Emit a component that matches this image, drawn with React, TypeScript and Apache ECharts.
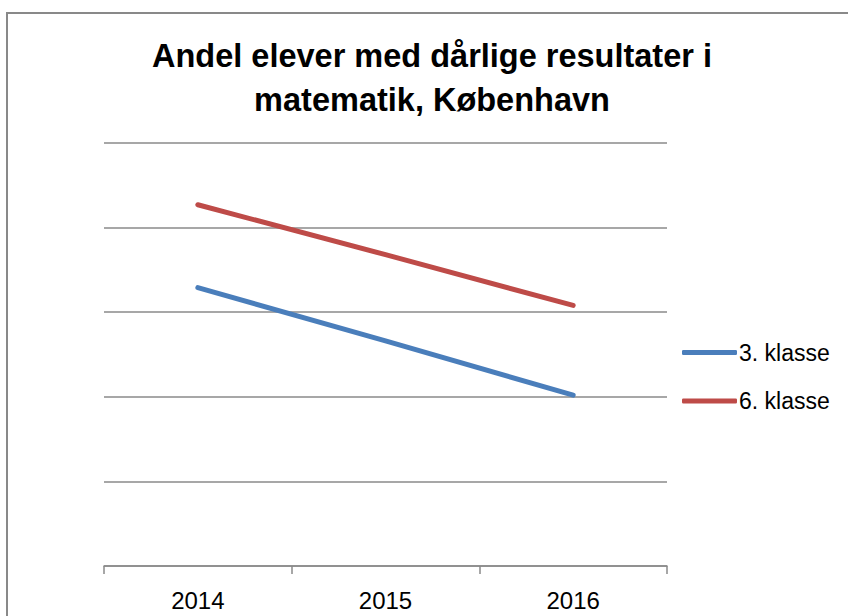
import React, { useEffect, useRef } from "react";
import * as echarts from "echarts";

const years = ["2014", "2015", "2016"];
const klasse3 = [16.45, 13.3, 10.1];
const klasse6 = [21.35, 18.4, 15.4];
const seriesNames = ["3. klasse", "6. klasse"];
const titleText = "Andel elever med dårlige resultater i\nmatematik, København";

export default function App() {
  const ref = useRef<HTMLDivElement>(null);
  useEffect(() => {
    if (!ref.current) return;
    const chart = echarts.init(ref.current, undefined, { renderer: "svg" });
    const font = "'Liberation Sans', Arial, sans-serif";
    chart.setOption({
      animation: false,
      backgroundColor: "#ffffff",
      textStyle: { fontFamily: font },
      title: {
        text: titleText,
        left: 432,
        textAlign: "center",
        top: 34,
        padding: 0,
        textStyle: {
          fontFamily: font,
          fontSize: 32.5,
          fontWeight: "bold",
          color: "#000000",
          lineHeight: 44,
        },
      },
      graphic: [
        {
          type: "rect",
          shape: { x: 7, y: 13, width: 900, height: 700 },
          style: { fill: "none", stroke: "#898989", lineWidth: 2 },
          silent: true,
          z: -1,
        },
      ],
      legend: {
        orient: "vertical",
        left: 682,
        top: 341,
        padding: 0,
        itemWidth: 55,
        itemHeight: 5,
        itemGap: 25.6,
        icon: "roundRect",
        textStyle: {
          fontFamily: font,
          fontSize: 23,
          lineHeight: 22,
          color: "#000000",
          padding: [0, 0, 0, -3],
        },
        data: seriesNames,
      },
      grid: { left: 104, right: 181, top: 143, bottom: 50 },
      xAxis: {
        type: "category",
        data: years,
        boundaryGap: true,
        axisLine: { show: true, lineStyle: { color: "#8a8a8a", width: 1.5 } },
        axisTick: { show: true, length: 8, lineStyle: { color: "#8a8a8a", width: 1.5 } },
        axisLabel: { margin: 22, fontSize: 24, color: "#000000", fontFamily: font },
      },
      yAxis: {
        type: "value",
        min: 0,
        max: 25,
        interval: 5,
        axisLine: { show: false },
        axisTick: { show: false },
        axisLabel: { show: false },
        splitLine: { show: true, lineStyle: { color: "#8a8a8a", width: 1.5 } },
      },
      series: [
        {
          name: seriesNames[0],
          type: "line",
          data: klasse3,
          symbol: "none",
          color: "#4a7ebb",
          lineStyle: { width: 5, color: "#4a7ebb", cap: "round" },
        },
        {
          name: seriesNames[1],
          type: "line",
          data: klasse6,
          symbol: "none",
          color: "#be4b48",
          lineStyle: { width: 5, color: "#be4b48", cap: "round" },
        },
      ],
    });
    return () => chart.dispose();
  }, []);
  return (
    <div
      ref={ref}
      style={{ position: "fixed", left: 0, top: 0, width: 848, height: 616 }}
    />
  );
}
